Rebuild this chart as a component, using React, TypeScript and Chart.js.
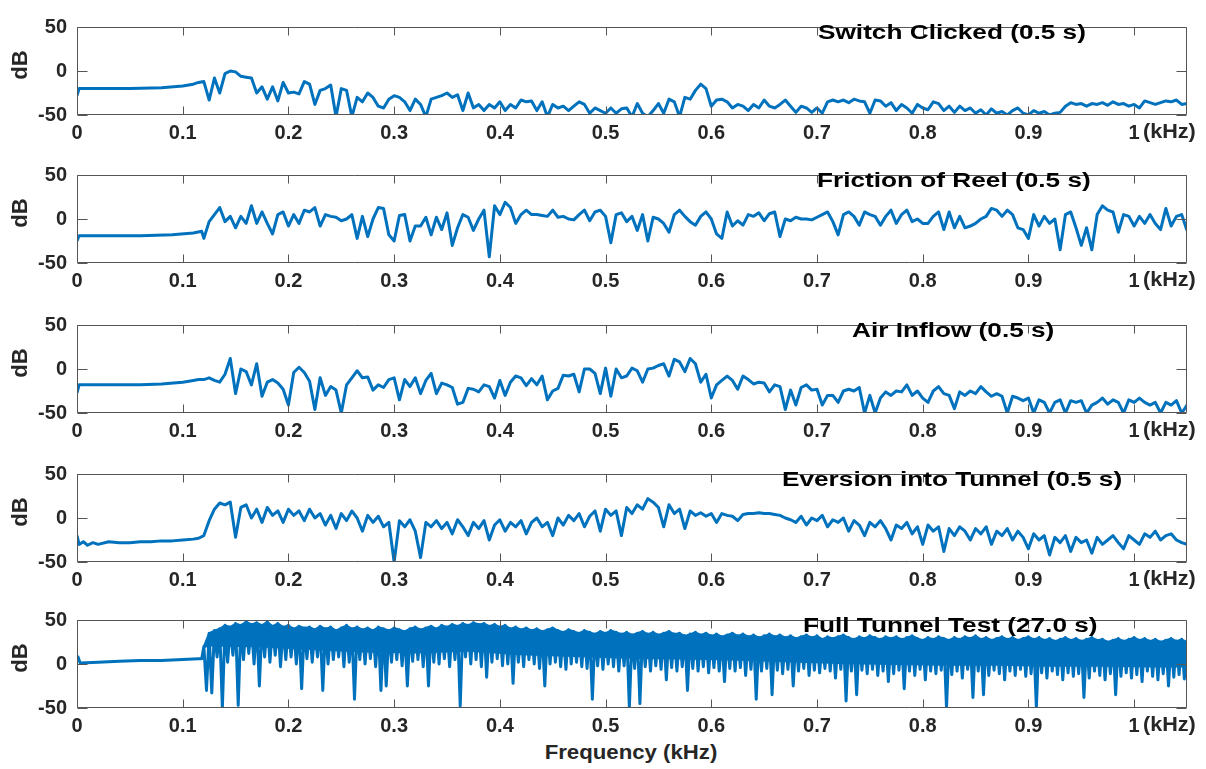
import React, { useEffect, useRef } from "react";
import { Chart, registerables } from "chart.js";

Chart.register(...registerables);

// ---------------------------------------------------------------------------
// Spectra (dB) for each recording. The low band (below 0.12 kHz) is listed as
// explicit frequency / level pairs; above that the level is listed on a
// regular 0.005 kHz grid starting at 0.12 kHz.
// ---------------------------------------------------------------------------

const GRID_START = 0.12;
const GRID_STEP = 0.005;

const switchLowFreq = [0, 0.002, 0.02, 0.05, 0.08, 0.1, 0.11, 0.115];
const switchLowDb = [-28, -20, -20, -20, -19, -17, -15, -13];
const switchDb = [
  -12, -33, -8, -25, -3, 0, -1, -6, -7, -8,
  -25, -18, -32, -18, -34, -13, -25, -24, -26, -12,
  -15, -38, -22, -20, -16, -52, -20, -22, -52, -30,
  -35, -25, -30, -40, -42, -32, -28, -30, -35, -45,
  -32, -38, -52, -32, -30, -28, -25, -30, -27, -45,
  -25, -42, -38, -45, -38, -42, -35, -45, -38, -42,
  -33, -35, -34, -45, -35, -52, -38, -42, -40, -45,
  -40, -35, -38, -48, -42, -45, -48, -42, -48, -43,
  -42, -52, -37, -48, -52, -45, -37, -48, -32, -35,
  -52, -30, -32, -22, -15, -20, -40, -33, -32, -35,
  -42, -38, -40, -45, -38, -42, -33, -40, -42, -38,
  -33, -40, -47, -40, -42, -47, -42, -48, -35, -33,
  -35, -33, -36, -32, -34, -35, -48, -33, -34, -40,
  -36, -45, -38, -42, -48, -38, -42, -44, -35, -37,
  -45, -40, -47, -40, -45, -42, -48, -44, -50, -43,
  -48, -46, -50, -45, -42, -48, -50, -45, -48, -46,
  -50, -48, -47, -40, -36, -38, -37, -40, -37, -38,
  -36, -39, -35, -38, -37, -40, -38, -42, -34, -36,
  -38, -36, -34, -35, -33, -38, -37,
];

const reelLowFreq = [0, 0.002, 0.03, 0.06, 0.09, 0.11, 0.118];
const reelLowDb = [-25, -19, -19, -19, -18, -16, -14];
const reelDb = [
  -22, -3, 5, 13, -3, 3, -10, 3, -5, 15,
  -5, 8, -5, -17, 5, 8, -8, 5, -5, 10,
  8, 13, -8, 5, 3, 2, -2, 0, 5, -22,
  3, -20, 0, 13, 12, -18, -25, 4, 5, -25,
  -8, -8, 2, -18, 2, -12, 7, -30, -10, 5,
  2, -13, 0, 10, -43, 15, 5, 19, 13, -5,
  5, 10, 5, 5, 4, 3, 10, 2, 3, 0,
  -1, 5, 10, -2, 8, 10, 3, -27, 5, 7,
  -3, 3, -13, 5, -25, 2, 0, -5, -15, 5,
  10, 3, -3, -7, 3, 8, 0, -17, -22, 8,
  -8, -2, -7, 5, 3, 7, -2, 6, 8, -20,
  0, -2, 2, 0, 0, -1, 2, 5, 8, -3,
  -18, 5, 8, 3, -7, 8, 5, 3, -7, 3,
  10, -5, 5, 10, -3, 0, -5, -5, 3, 8,
  -12, 8, -10, 3, -10, -8, -5, 0, 3, 12,
  10, 3, 10, 5, -10, -12, -22, 5, -8, 3,
  -5, 0, -35, 5, 8, -10, -30, -10, -35, 5,
  15, 10, 8, -15, 5, 3, -8, 3, -5, 5,
  -5, -12, 12, -8, 3, 5, -13,
];

const airLowFreq = [0, 0.002, 0.03, 0.06, 0.08, 0.1, 0.11, 0.115];
const airLowDb = [-27, -18, -18, -18, -17, -15, -13, -12];
const airDb = [
  -12, -10, -13, -15, -6, 12, -28, 0, -3, -18,
  6, -31, -15, -12, -16, -23, -41, -4, 2, -4,
  -14, -46, -10, -30, -20, -24, -50, -18, -10, -2,
  -10, -9, -24, -18, -21, -12, -10, -35, -12, -20,
  -10, -28, -13, -5, -28, -16, -18, -21, -40, -38,
  -22, -23, -26, -18, -20, -33, -13, -30, -15, -8,
  -10, -19, -11, -18, -8, -35, -25, -22, -7, -8,
  -6, -26, 0, 0, -5, -28, 1, -31, 0, -10,
  -8, 1, -2, -15, 0, 1, 4, 6, -8, 11,
  8, -3, 12, 6, -15, -6, -33, -18, -13, -8,
  -13, -23, -8, -12, -17, -15, -16, -26, -18, -20,
  -46, -24, -41, -21, -18, -24, -23, -41, -30, -30,
  -38, -25, -23, -25, -21, -50, -30, -50, -33, -26,
  -30, -25, -26, -18, -30, -25, -33, -38, -25, -20,
  -28, -30, -45, -26, -30, -25, -28, -20, -26, -31,
  -28, -31, -50, -31, -33, -36, -33, -50, -35, -38,
  -50, -38, -35, -50, -36, -38, -36, -50, -41, -38,
  -33, -40, -35, -38, -50, -35, -38, -33, -38, -41,
  -38, -50, -38, -41, -36, -50, -41,
];

const eversionLowFreq = [0, 0.002, 0.006, 0.01, 0.015, 0.02, 0.03, 0.04, 0.05, 0.06, 0.07, 0.08, 0.09, 0.1, 0.11, 0.115];
const eversionLowDb = [-20, -30, -27, -31, -28, -30, -27, -28, -28, -27, -27, -26, -26, -25, -24, -23];
const eversionDb = [
  -20, -3, 10, 17, 15, 18, -22, 12, 15, 0,
  10, -5, 12, 3, 8, -5, 10, 3, 8, -3,
  10, 0, 5, -8, 3, -12, 5, -3, 8, 0,
  -15, 3, -5, 2, -10, -5, -50, -3, -10, -2,
  -15, -45, -5, -10, -3, -12, -5, -18, -2, -10,
  -20, -5, -12, -3, -25, -8, -2, -15, -5, -10,
  -3, -18, -5, 0, -10, -5, -20, 0, -8, 3,
  -3, 5, -10, 2, 8, -15, 10, 3, 8, -20,
  12, 5, 15, 10, 22, 18, 12, -10, 15, 5,
  10, -12, 8, 3, 6, 2, 5, -5, 5, 3,
  2, -3, 4, 5, 5, 6, 5, 5, 4, 3,
  0, -2, -5, 2, -8, 0, -3, 3, -10, -2,
  -5, 0, -15, -3, -8, -20, -5, -10, -3, -12,
  -25, -8, -12, -5, -18, -10, -30, -8, -15, -10,
  -38, -12, -20, -10, -15, -25, -12, -18, -10, -30,
  -15, -20, -12, -25, -15, -22, -35, -18, -25, -20,
  -42, -22, -28, -20, -38, -22, -28, -25, -40, -22,
  -30, -25, -20, -28, -35, -20, -25, -30, -18, -22,
  -15, -25, -20, -18, -25, -28, -30,
];

// Full-length recording: the spectrum is very dense, so each 0.005 kHz step
// holds an upper excursion (at the grid frequency) and a lower excursion
// (half a step later). The solid core of the trace runs from the upper
// excursions down to a slowly varying floor.
const fullLowFreq = [0, 0.001, 0.003, 0.02, 0.04, 0.06, 0.08, 0.1, 0.115, 0.118];
const fullLowDb = [5, 8, 1, 2, 3, 4, 4, 5, 6, 6];
const fullPeakDb = [
  20, 35, 38, 40, 44, 42, 46, 44, 48, 45,
  47, 44, 48, 43, 46, 42, 44, 40, 43, 41,
  42, 39, 43, 40, 42, 38, 41, 44, 40, 42,
  39, 41, 38, 42, 40, 38, 41, 39, 37, 40,
  42, 39, 41, 43, 40, 44, 42, 45, 43, 46,
  44, 47, 45, 46, 43, 45, 42, 44, 40, 42,
  39, 41, 38, 40, 37, 39, 41, 38, 36, 39,
  37, 35, 38, 36, 34, 37, 35, 38, 36, 34,
  36, 33, 35, 37, 34, 36, 33, 35, 37, 34,
  35, 32, 34, 36, 33, 35, 32, 34, 31, 33,
  35, 32, 34, 31, 33, 30, 32, 34, 31, 33,
  30, 32, 29, 31, 33, 30, 32, 28, 31, 29,
  31, 33, 30, 28, 31, 29, 32, 30, 28, 31,
  29, 31, 28, 30, 32, 29, 27, 30, 28, 31,
  29, 27, 30, 28, 31, 29, 32, 28, 30, 27,
  29, 31, 28, 30, 27, 29, 31, 28, 30, 27,
  29, 26, 28, 30, 27, 29, 26, 28, 30, 27,
  28, 25, 27, 29, 26, 28, 30, 27, 29, 26,
  28, 25, 27, 29, 26, 28, 25,
];
const fullTroughDb = [
  -30, -33, 8, -50, 2, 10, -47, 5, 12, 0,
  -25, 8, 2, 10, -3, 5, 8, 0, -28, 6,
  2, 8, -30, 0, 5, 8, -3, 2, -40, 5,
  0, 6, -3, -30, -25, 2, 5, -2, -25, 3,
  5, -3, -25, 2, 0, 6, -3, 5, -48, 8,
  0, 5, -3, -15, 2, 6, -2, 0, -22, 2,
  -3, 5, 0, -5, -25, 0, 2, -3, -6, 0,
  2, -3, -5, -40, -2, -6, 0, -3, -8, -2,
  -50, -5, -45, -3, -8, -2, -6, -18, -4, -8,
  -3, -30, -5, -8, -3, -10, -4, -8, -20, -5,
  -8, -4, -13, -6, -40, -8, -5, -35, -7, -11,
  -6, -25, -8, -5, -13, -7, -10, -5, -8, -16,
  -6, -42, -8, -35, -7, -11, -6, -13, -8, -20,
  -11, -7, -28, -8, -13, -6, -18, -8, -11, -7,
  -50, -12, -8, -16, -6, -38, -8, -35, -13, -7,
  -11, -18, -8, -13, -6, -14, -11, -50, -10, -16,
  -8, -12, -18, -10, -14, -11, -38, -16, -8, -13,
  -18, -11, -35, -14, -10, -16, -12, -20, -8, -14,
  -18, -11, -25, -15, -12, -17, -10,
];
const fullFloorFreq = [0.12, 0.125, 0.17, 0.22, 0.27, 0.32, 0.37, 0.42, 0.47, 0.52, 0.57, 0.62, 0.67, 0.72, 0.77, 0.82, 0.87, 0.92, 0.97, 1.02, 1.05];
const fullFloorDb = [18, 20, 19, 16, 13, 12, 14, 10, 8, 6, 5, 4, 2, 0, -1, -2, -2, -3, -3, -4, -4];

const xTickStep = 0.1;
const yTickValues = [-50, 0, 50];

type Pt = { x: number; y: number };

function pairs(freq: number[], db: number[]): Pt[] {
  return freq.map((f, i) => ({ x: f, y: db[i] }));
}

function buildSeries(lowFreq: number[], lowDb: number[], gridDb: number[]): Pt[] {
  const pts = pairs(lowFreq, lowDb);
  gridDb.forEach((v, i) => pts.push({ x: +(GRID_START + i * GRID_STEP).toFixed(4), y: v }));
  return pts;
}

function buildDense(lowFreq: number[], lowDb: number[], peaks: number[], troughs: number[]): Pt[] {
  const pts = pairs(lowFreq, lowDb);
  peaks.forEach((p, i) => {
    const f = GRID_START + i * GRID_STEP;
    pts.push({ x: +f.toFixed(4), y: p });
    pts.push({ x: +(f + GRID_STEP / 2).toFixed(4), y: troughs[i] });
  });
  return pts;
}

const FONT = '"Liberation Sans", Arial, Helvetica, sans-serif';
const LINE_COLOR = "#0072BD";
const TEXT_COLOR = "#262626";

const PLOT_LEFT = 77;
const PLOT_RIGHT = 1187;
const PLOT_HEIGHT = 100;
const CANVAS_W = 1206;
const PAD_TOP = 10;
const X_AXIS_H = 30;

type Band = { upper: Pt[]; floor: Pt[] };

const panels: { title: string; top: number; titleX: number; points: Pt[]; band?: Band }[] = [
  { title: "Switch Clicked (0.5 s)", top: 15, titleX: 818, points: buildSeries(switchLowFreq, switchLowDb, switchDb) },
  { title: "Friction of Reel (0.5 s)", top: 163, titleX: 817, points: buildSeries(reelLowFreq, reelLowDb, reelDb) },
  { title: "Air Inflow (0.5 s)", top: 313, titleX: 852, points: buildSeries(airLowFreq, airLowDb, airDb) },
  { title: "Eversion into Tunnel (0.5 s)", top: 462, titleX: 782, points: buildSeries(eversionLowFreq, eversionLowDb, eversionDb) },
  {
    title: "Full Tunnel Test (27.0 s)",
    top: 608,
    titleX: 803,
    points: buildDense(fullLowFreq, fullLowDb, fullPeakDb, fullTroughDb),
    band: {
      upper: buildSeries([], [], fullPeakDb),
      floor: pairs(fullFloorFreq, fullFloorDb),
    },
  },
];

// Box around the axes with inward tick marks on all four sides.
const framePlugin = {
  id: "axesFrame",
  afterDatasetsDraw(chart: any) {
    const { ctx, chartArea, scales } = chart;
    const L = Math.round(chartArea.left) + 0.5;
    const R = Math.round(chartArea.right) - 0.5;
    const T = Math.round(chartArea.top) + 0.5;
    const B = Math.round(chartArea.bottom) - 0.5;
    ctx.save();
    ctx.strokeStyle = "#555555";
    ctx.lineWidth = 1;
    ctx.beginPath();
    ctx.rect(L, T, R - L, B - T);
    scales.x.ticks.forEach((t: any) => {
      const px = Math.round(scales.x.getPixelForValue(t.value)) + 0.5;
      ctx.moveTo(px, B);
      ctx.lineTo(px, B - 8);
      ctx.moveTo(px, T);
      ctx.lineTo(px, T + 8);
    });
    scales.y.ticks.forEach((t: any) => {
      const py = Math.round(scales.y.getPixelForValue(t.value)) + 0.5;
      ctx.moveTo(L, py);
      ctx.lineTo(L + 10, py);
      ctx.moveTo(R, py);
      ctx.lineTo(R - 10, py);
    });
    ctx.stroke();
    ctx.restore();
  },
};

function fmtFreq(v: number): string {
  return String(Math.round(v * 10) / 10);
}

function SpectrumPanel({ points, top, band }: { points: Pt[]; top: number; band?: Band }) {
  const ref = useRef<HTMLCanvasElement>(null);
  useEffect(() => {
    const datasets: any[] = [
      {
        data: points,
        borderColor: LINE_COLOR,
        borderWidth: 3,
        pointRadius: 0,
        tension: 0,
        fill: false,
        clip: 0,
        borderJoinStyle: "round",
      },
    ];
    if (band) {
      datasets.push(
        {
          data: band.upper,
          borderColor: LINE_COLOR,
          borderWidth: 2,
          backgroundColor: LINE_COLOR,
          pointRadius: 0,
          tension: 0,
          fill: "+1",
          clip: 0,
        },
        {
          data: band.floor,
          borderWidth: 0,
          borderColor: "rgba(0,0,0,0)",
          pointRadius: 0,
          tension: 0,
          fill: false,
          clip: 0,
        }
      );
    }
    const chart = new Chart(ref.current as HTMLCanvasElement, {
      type: "line",
      data: { datasets },
      options: {
        responsive: false,
        animation: false,
        devicePixelRatio: 1,
        events: [],
        layout: { padding: { top: PAD_TOP, right: CANVAS_W - PLOT_RIGHT, left: 0, bottom: 0 } },
        plugins: { legend: { display: false }, tooltip: { enabled: false } },
        scales: {
          x: {
            type: "linear",
            min: 0,
            max: 1.05,
            afterFit: (s: any) => {
              s.height = X_AXIS_H;
            },
            grid: { display: false, drawTicks: false },
            border: { display: false },
            ticks: {
              stepSize: xTickStep,
              includeBounds: false,
              autoSkip: false,
              maxRotation: 0,
              padding: 6,
              color: TEXT_COLOR,
              font: { family: FONT, size: 20, weight: "bold" },
              callback: (v: any) => fmtFreq(Number(v)),
            },
          },
          y: {
            type: "linear",
            min: -50,
            max: 50,
            afterFit: (s: any) => {
              s.width = PLOT_LEFT;
            },
            afterBuildTicks: (s: any) => {
              s.ticks = yTickValues.map((v) => ({ value: v }));
            },
            grid: { display: false, drawTicks: false },
            border: { display: false },
            ticks: {
              padding: 10,
              color: TEXT_COLOR,
              font: { family: FONT, size: 20, weight: "bold" },
            },
          },
        },
      },
      plugins: [framePlugin],
    });
    return () => chart.destroy();
  }, [points, band]);
  return (
    <canvas
      ref={ref}
      width={CANVAS_W}
      height={PAD_TOP + PLOT_HEIGHT + X_AXIS_H}
      style={{ position: "absolute", left: 0, top: top - PAD_TOP, display: "block" }}
    />
  );
}

const boldText: React.CSSProperties = {
  position: "absolute",
  fontFamily: FONT,
  fontWeight: "bold",
  whiteSpace: "nowrap",
  lineHeight: 1.15,
};

export default function App() {
  return (
    <div style={{ position: "absolute", left: 0, top: 0, width: 1206, height: 769, background: "#fff", overflow: "hidden" }}>
      {panels.map((p) => (
        <SpectrumPanel key={p.title} points={p.points} top={p.top} band={p.band} />
      ))}
      {panels.map((p) => (
        <React.Fragment key={p.title + "-labels"}>
          <div
            style={{
              ...boldText,
              left: p.titleX,
              top: p.top + 17,
              fontSize: 20,
              color: "#000",
              transform: "translate(0, -50%) scaleX(1.31)",
              transformOrigin: "left center",
            }}
          >
            {p.title}
          </div>
          <div
            style={{
              ...boldText,
              left: 20,
              top: p.top + PLOT_HEIGHT / 2,
              fontSize: 22,
              color: TEXT_COLOR,
              transform: "translate(-50%, -50%) rotate(-90deg)",
            }}
          >
            dB
          </div>
          <div
            style={{
              ...boldText,
              left: 1143,
              top: p.top + PLOT_HEIGHT + 16,
              fontSize: 20,
              color: TEXT_COLOR,
              transform: "translate(0, -50%) scaleX(1.08)",
              transformOrigin: "left center",
            }}
          >
            (kHz)
          </div>
        </React.Fragment>
      ))}
      <div
        style={{
          ...boldText,
          left: 631,
          top: 752,
          fontSize: 20,
          color: TEXT_COLOR,
          transform: "translate(-50%, -50%) scaleX(1.11)",
        }}
      >
        Frequency (kHz)
      </div>
    </div>
  );
}
